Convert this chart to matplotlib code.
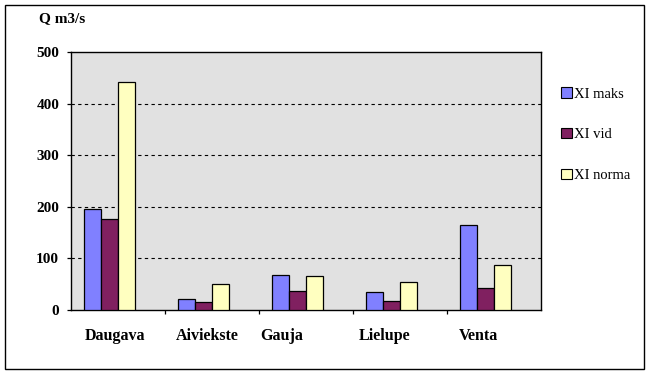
import matplotlib
matplotlib.use("Agg")
import matplotlib.pyplot as plt
from matplotlib.patches import Rectangle
import numpy as np

rivers = ["Daugava", "Aiviekste", "Gauja", "Lielupe", "Venta"]
xi_maks = [195, 21, 67, 34, 164]
xi_vid = [176, 15, 36, 17, 42]
xi_norma = [441, 50, 65, 54, 87]
series_names = ["XI maks", "XI vid", "XI norma"]
colors = ["#8080FF", "#802060", "#FFFFC0"]
yticks = [0, 100, 200, 300, 400, 500]

plt.rcParams['font.family'] = ['Liberation Serif', 'DejaVu Serif']

fig = plt.figure(figsize=(6.5, 3.74), dpi=100)
ax = fig.add_axes([71/650, 1-310/374, 470/650, 258/374])
ax.set_facecolor("#E1E1E1")

x = np.arange(len(rivers))
w = 0.183
for k, (vals, c, name) in enumerate(zip([xi_maks, xi_vid, xi_norma], colors, series_names)):
    ax.bar(x + (k - 1.5) * w, vals, width=w, color=c, edgecolor="black", linewidth=0.9, label=name, zorder=3)

ax.set_xlim(-0.5, len(rivers) - 0.5)
ax.set_ylim(0, 500)
ax.set_yticks(yticks)
ax.set_yticklabels([str(v) for v in yticks], fontsize=11, fontweight="bold")
ax.tick_params(axis="y", direction="out", length=3, width=0.9, pad=5.5)
for v in yticks[1:-1]:
    ax.axhline(v, color="black", linestyle=(0, (3, 3)), linewidth=0.8, zorder=1)

label_off = [-0.03, -0.05, -0.26, -0.16, -0.17]
ax.set_xticks(x + np.array(label_off))
ax.set_xticklabels(rivers, fontsize=11.5, fontweight="bold")
ax.tick_params(axis="x", which="major", length=0, pad=13)
ax.set_xticks(np.arange(len(rivers) - 1) + 0.5, minor=True)
ax.tick_params(axis="x", which="minor", direction="out", length=3, width=0.9)

for s in ax.spines.values():
    s.set_color("black")
    s.set_linewidth(1.0)

fig.text(39/650, 1-19/374, "Q m3/s", fontsize=11, fontweight="bold", va="center", ha="left")

handles = [Rectangle((0, 0), 1, 1, facecolor=c, edgecolor="black", linewidth=0.8) for c in colors]
leg = fig.legend(handles, series_names, loc="upper left", bbox_to_anchor=(554/650, 1-80/374),
                 frameon=False, fontsize=10.5, handlelength=0.7, handleheight=0.7,
                 handletextpad=0.15, labelspacing=1.9, borderpad=0)

fig.patches.append(Rectangle((5/650, 5/374), 639/650, 364/374, transform=fig.transFigure,
                             fill=False, edgecolor="black", linewidth=1.0))

fig.savefig("out.png", dpi=100)
